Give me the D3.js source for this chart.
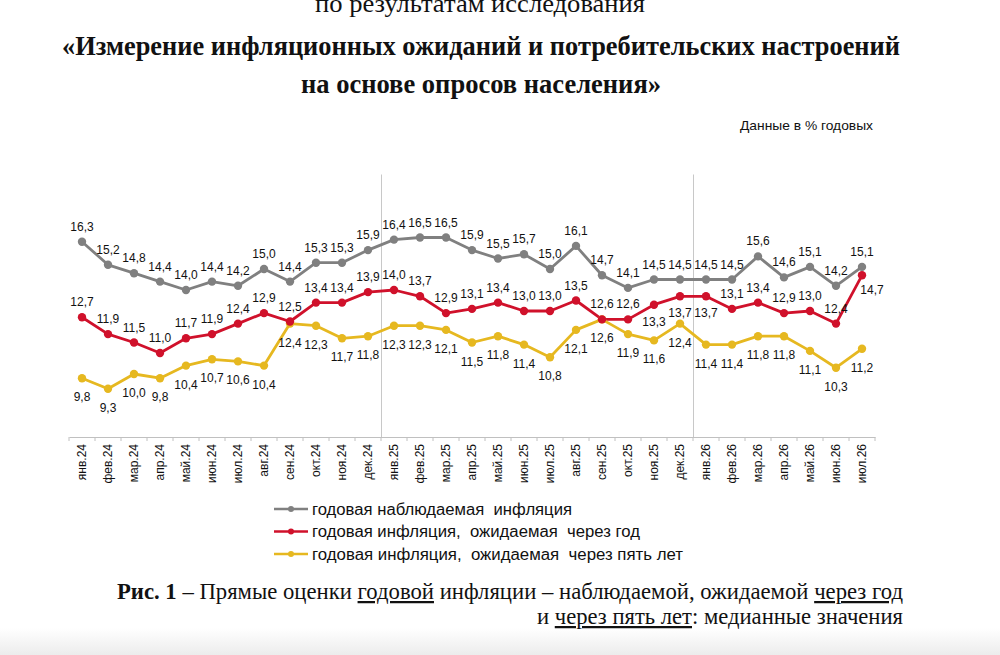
<!DOCTYPE html>
<html><head><meta charset="utf-8">
<script src="https://cdn.jsdelivr.net/npm/d3@7/dist/d3.min.js"></script>
<style>body{margin:0;background:#fff}svg{display:block}text{white-space:pre}</style>
</head><body>
<svg id="c" width="1000" height="655"></svg>
<script>
const months = ["янв.24","фев.24","мар.24","апр.24","май.24","июн.24","июл.24","авг.24","сен.24","окт.24","ноя.24","дек.24",
"янв.25","фев.25","мар.25","апр.25","май.25","июн.25","июл.25","авг.25","сен.25","окт.25","ноя.25","дек.25",
"янв.26","фев.26","мар.26","апр.26","май.26","июн.26","июл.26"];
const observed = [16.3,15.2,14.8,14.4,14.0,14.4,14.2,15.0,14.4,15.3,15.3,15.9,16.4,16.5,16.5,15.9,15.5,15.7,15.0,16.1,14.7,14.1,14.5,14.5,14.5,14.5,15.6,14.6,15.1,14.2,15.1];
const expected1y = [12.7,11.9,11.5,11.0,11.7,11.9,12.4,12.9,12.5,13.4,13.4,13.9,14.0,13.7,12.9,13.1,13.4,13.0,13.0,13.5,12.6,12.6,13.3,13.7,13.7,13.1,13.4,12.9,13.0,12.4,14.7];
const expected5y = [9.8,9.3,10.0,9.8,10.4,10.7,10.6,10.4,12.4,12.3,11.7,11.8,12.3,12.3,12.1,11.5,11.8,11.4,10.8,12.1,12.6,11.9,11.6,12.4,11.4,11.4,11.8,11.8,11.1,10.3,11.2];
const seriesNames = ["годовая наблюдаемая  инфляция","годовая инфляция,  ожидаемая  через год","годовая инфляция,  ожидаемая  через пять лет"];
const yearStarts = ["янв.25","янв.26"];

const svg = d3.select("#c");
const colors = ["#808080","#d0112b","#e6b820"];
const series = [observed, expected1y, expected5y];

// background bottom shade
const defs = svg.append("defs");
const g = defs.append("linearGradient").attr("id","bg").attr("x1",0).attr("y1",0).attr("x2",0).attr("y2",1);
g.append("stop").attr("offset","0").attr("stop-color","#ffffff");
g.append("stop").attr("offset","1").attr("stop-color","#ececec");
svg.append("rect").attr("x",0).attr("y",628).attr("width",1000).attr("height",27).attr("fill","url(#bg)");

// titles
svg.append("text").attr("x",480).attr("y",12).attr("text-anchor","middle")
  .attr("font-family","Liberation Serif").attr("font-size",26).attr("fill","#111")
  .attr("textLength",330).attr("lengthAdjust","spacingAndGlyphs").text("по результатам исследования");
svg.append("text").attr("x",481).attr("y",55).attr("text-anchor","middle")
  .attr("font-family","Liberation Serif").attr("font-weight","bold").attr("font-size",28).attr("fill","#111")
  .attr("textLength",838).attr("lengthAdjust","spacingAndGlyphs")
  .text("«Измерение инфляционных ожиданий и потребительских настроений");
svg.append("text").attr("x",481).attr("y",93).attr("text-anchor","middle")
  .attr("font-family","Liberation Serif").attr("font-weight","bold").attr("font-size",28).attr("fill","#111")
  .attr("textLength",360).attr("lengthAdjust","spacingAndGlyphs")
  .text("на основе опросов населения»");
svg.append("text").attr("x",873).attr("y",130).attr("text-anchor","end")
  .attr("font-family","Liberation Sans").attr("font-size",13).attr("fill","#111")
  .attr("textLength",133).attr("lengthAdjust","spacingAndGlyphs").text("Данные в % годовых");

const x = d3.scaleBand().domain(months).range([69,875]).padding(0);
const y = d3.scaleLinear().domain([7,19.5]).range([437,174.5]);
const cx = m => x(m) + x.bandwidth()/2;

// year separators
yearStarts.forEach(m => {
  svg.append("line").attr("x1",x(m)+0.5).attr("x2",x(m)+0.5).attr("y1",y(19.5)).attr("y2",y(7))
    .attr("stroke","#c8c8c8").attr("stroke-width",1);
});

// x axis
const ax = svg.append("g").attr("transform","translate(0,437)")
  .call(d3.axisBottom(x).tickSize(0).tickPadding(6));
ax.select(".domain").attr("stroke","#c0c0c0");
ax.selectAll(".tick text").attr("transform","rotate(-90)").attr("text-anchor","end")
  .attr("x",-7).attr("y",0).attr("dy","0.35em")
  .attr("font-family","Liberation Sans").attr("font-size",12).attr("fill","#111");
// boundary tick marks
svg.append("g").selectAll("line").data(months.concat(["_end"])).join("line")
  .attr("x1",(d,i)=> i<months.length ? x(d) : x.range()[1]).attr("x2",(d,i)=> i<months.length ? x(d) : x.range()[1])
  .attr("y1",437).attr("y2",441).attr("stroke","#c0c0c0");

// lines
const line = d3.line().x((d,i)=>cx(months[i])).y(d=>y(d));
series.forEach((s,k)=>{
  svg.append("path").datum(s).attr("d",line).attr("fill","none").attr("stroke",colors[k]).attr("stroke-width",2.8)
    .attr("stroke-linejoin","round");
});
[0,2,1].forEach(k=>{
  svg.append("g").selectAll("circle").data(series[k]).join("circle")
    .attr("cx",(d,i)=>cx(months[i])).attr("cy",d=>y(d)).attr("r",4.2).attr("fill",colors[k]);
});

// labels
const fmt = v => v.toFixed(1).replace(".",",");
const redBelow = new Set(["ноя.25","дек.25","янв.26"]);
function labelPos(k,i){
  const m = months[i], px = cx(m), py = y(series[k][i]);
  if (k===0) return [px, py-11];
  if (k===2) return [px, py+23];
  if (m==="июл.26") return [px+10, py+19];
  if (redBelow.has(m)) return [px, py+21];
  return [px, py-11];
}
[0,1,2].forEach(k=>{
  svg.append("g").selectAll("text").data(series[k]).join("text")
    .attr("x",(d,i)=>labelPos(k,i)[0]).attr("y",(d,i)=>labelPos(k,i)[1])
    .attr("text-anchor","middle").attr("font-family","Liberation Sans").attr("font-size",12).attr("fill","#111")
    .text(d=>fmt(d));
});

// legend
const legendWidths = [260,328,371];
const lg = svg.append("g");
seriesNames.forEach((n,i)=>{
  const yy = 509 + i*22.5;
  lg.append("line").attr("x1",274).attr("x2",308).attr("y1",yy).attr("y2",yy).attr("stroke",colors[i]).attr("stroke-width",2.6);
  lg.append("circle").attr("cx",291).attr("cy",yy).attr("r",3).attr("fill",colors[i]);
  lg.append("text").attr("x",312).attr("y",yy+5.5).attr("font-family","Liberation Sans").attr("font-size",16).attr("fill","#111")
    .attr("textLength",legendWidths[i]).attr("lengthAdjust","spacingAndGlyphs").text(n);
});

// caption
const cap1 = svg.append("text").attr("x",903).attr("y",599).attr("text-anchor","end")
  .attr("font-family","Liberation Serif").attr("font-size",22.5).attr("fill","#111")
  .attr("textLength",786).attr("lengthAdjust","spacingAndGlyphs");
cap1.append("tspan").attr("font-weight","bold").text("Рис. 1");
cap1.append("tspan").text(" – Прямые оценки ");
cap1.append("tspan").attr("text-decoration","underline").text("годовой");
cap1.append("tspan").text(" инфляции – наблюдаемой, ожидаемой ");
cap1.append("tspan").attr("text-decoration","underline").text("через год");
const cap2 = svg.append("text").attr("x",903).attr("y",624).attr("text-anchor","end")
  .attr("font-family","Liberation Serif").attr("font-size",22.5).attr("fill","#111")
  .attr("textLength",366).attr("lengthAdjust","spacingAndGlyphs");
cap2.append("tspan").text("и ");
cap2.append("tspan").attr("text-decoration","underline").text("через пять лет");
cap2.append("tspan").text(": медианные значения");
</script>
</body></html>
